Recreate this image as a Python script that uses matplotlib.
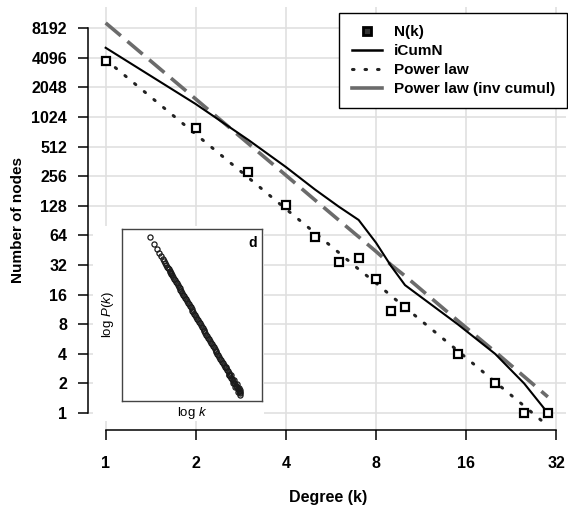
import matplotlib
matplotlib.use("Agg")
import matplotlib.pyplot as plt
from matplotlib.lines import Line2D
from matplotlib.patches import Rectangle

plt.rcParams['font.family'] = ['Liberation Sans', 'DejaVu Sans']
plt.rcParams['mathtext.fontset'] = 'custom'
plt.rcParams['mathtext.rm'] = 'Liberation Sans'
plt.rcParams['mathtext.it'] = 'Liberation Sans:italic'

# main chart data
degree = [1, 2, 3, 4, 5, 6, 7, 8, 9, 10, 15, 20, 25, 30]
n_k = [3800, 790, 280, 130, 62, 34, 38, 23, 11, 12, 4, 2, 1, 1]
icum_n = [5188, 1388, 598, 318, 188, 126, 92, 54, 31, 20, 8, 4, 2, 1]
power_law = [3930, 685, 247, 119, 68, 43, 29, 21, 15.5, 11.9, 4.3, 2.07, 1.18, 0.74]
power_inv = [9280, 1560, 549, 262, 147, 92, 62, 44, 32, 24.8, 8.7, 4.2, 2.35, 1.46]

x_ticks = [1, 2, 4, 8, 16, 32]
y_ticks = [1, 2, 4, 8, 16, 32, 64, 128, 256, 512, 1024, 2048, 4096, 8192]

# inset data: log k vs log P(k)
inset_logk = [0.30, 0.48, 0.60, 0.70, 0.78, 0.85, 0.90, 0.95, 1.00, 1.04, 1.08, 1.11,
              1.15, 1.18, 1.20, 1.23, 1.26, 1.30, 1.34, 1.38, 1.42, 1.46, 1.50, 1.54,
              1.58, 1.62, 1.66, 1.70, 1.74, 1.78, 1.82, 1.86, 1.90, 1.94, 1.98, 2.02,
              2.06, 2.10, 2.14, 2.18, 2.22, 2.26, 2.30, 2.34, 2.38, 2.42, 2.46, 2.50,
              2.54, 2.58, 2.62, 2.66, 2.70, 2.74, 2.78, 2.82, 2.86, 2.90, 2.94, 2.98,
              3.02, 3.06, 3.10, 3.14, 3.18, 3.22, 3.26, 3.30, 3.34, 3.38, 3.42, 3.46,
              3.50, 3.54, 3.58, 3.62, 3.66, 3.70, 3.74, 3.78, 3.82, 3.86, 3.90, 3.94,
              3.98, 4.02, 4.06, 4.10, 4.14, 4.18, 4.20,
              3.60, 3.70, 3.80, 3.90, 3.95, 4.00, 4.05, 4.10, 4.15, 4.20, 4.18]
inset_logp = [-0.63, -1.01, -1.26, -1.47, -1.64, -1.79, -1.89, -2.00, -2.10, -2.18, -2.27, -2.33,
              -2.42, -2.48, -2.52, -2.58, -2.65, -2.73, -2.81, -2.90, -2.98, -3.07, -3.15, -3.23,
              -3.32, -3.40, -3.49, -3.57, -3.65, -3.74, -3.82, -3.91, -3.99, -4.07, -4.16, -4.24,
              -4.33, -4.41, -4.49, -4.58, -4.66, -4.75, -4.83, -4.91, -5.00, -5.08, -5.17, -5.25,
              -5.33, -5.42, -5.50, -5.59, -5.67, -5.75, -5.84, -5.92, -6.01, -6.09, -6.17, -6.26,
              -6.34, -6.43, -6.51, -6.59, -6.68, -6.76, -6.85, -6.93, -7.01, -7.10, -7.18, -7.27,
              -7.35, -7.43, -7.52, -7.60, -7.69, -7.77, -7.85, -7.94, -8.02, -8.11, -8.19, -8.27,
              -8.36, -8.44, -8.53, -8.61, -8.69, -8.78, -8.82,
              -7.45, -7.90, -7.88, -8.30, -8.15, -8.50, -8.35, -8.75, -8.55, -8.95, -8.65]

W, H = 568, 511
fig = plt.figure(figsize=(W / 100, H / 100), dpi=100)
fig.patch.set_facecolor('white')

ax = fig.add_axes([88 / W, 1 - 430 / H, (566 - 88) / W, (430 - 7) / H])
ax.set_xscale('log', base=2)
ax.set_yscale('log', base=2)
ax.set_xlim(0.873, 34.5)
ax.set_ylim(0.672, 13480)

dotted = (0, (0.5, 3.6))
ax.plot(degree, power_inv, color='#6b6b6b', lw=2.6, dashes=[5.5, 2.4], zorder=3)
ax.plot(degree, icum_n, color='black', lw=1.5, zorder=3)
ax.plot(degree, power_law, color='#222222', lw=2.2, linestyle=dotted,
        dash_capstyle='round', zorder=3)
ax.plot(degree, n_k, linestyle='none', marker='s', markersize=5.8, markerfacecolor='white',
        markeredgecolor='black', markeredgewidth=1.6, zorder=4)

ax.set_xticks(x_ticks)
ax.set_xticklabels([str(v) for v in x_ticks])
ax.set_yticks(y_ticks)
ax.set_yticklabels([str(v) for v in y_ticks])
ax.minorticks_off()
ax.grid(True, color='#e0e0e0', lw=1.2)
ax.set_axisbelow(True)
for s in ['top', 'right']:
    ax.spines[s].set_visible(False)
ax.spines['left'].set_bounds(1, 8192)
ax.spines['bottom'].set_bounds(1, 32)
ax.spines['left'].set_linewidth(1.1)
ax.spines['bottom'].set_linewidth(1.1)
ax.tick_params(axis='y', length=7, width=1.1, pad=8, labelsize=11.5)
ax.tick_params(axis='x', length=7, width=1.1, pad=12, labelsize=11.5)
for lab in ax.get_xticklabels() + ax.get_yticklabels():
    lab.set_fontweight('bold')

fig.text(18 / W, 1 - 220 / H, 'Number of nodes', rotation=90, ha='center', va='center',
         fontsize=11, fontweight='bold')
fig.text(328 / W, 1 - 497 / H, 'Degree (k)', ha='center', va='center',
         fontsize=11.5, fontweight='bold')

handles = [
    Line2D([], [], linestyle='none', marker='s', markersize=5.5, markerfacecolor='#333333',
           markeredgecolor='black', markeredgewidth=2),
    Line2D([], [], color='black', lw=1.8),
    Line2D([], [], color='#222222', lw=2.2, linestyle=dotted, dash_capstyle='round'),
    Line2D([], [], color='#6b6b6b', lw=2.6),
]
labels = ['N(k)', 'iCumN', 'Power law', 'Power law (inv cumul)']
leg = ax.legend(handles, labels, loc='upper right', bbox_to_anchor=(567 / W, 1 - 13 / H),
                bbox_transform=fig.transFigure, borderaxespad=0, fancybox=False,
                edgecolor='black', framealpha=1, prop={'size': 11, 'weight': 'bold'},
                handlelength=2.0, handletextpad=0.75, labelspacing=0.32, borderpad=0.8)
leg.get_frame().set_linewidth(1.0)

# white area behind the inset
fig.patches.append(Rectangle((93 / W, 1 - 421 / H), 171 / W, 195 / H,
                             transform=fig.transFigure, facecolor='white',
                             edgecolor='none', zorder=1))

inset = fig.add_axes([122 / W, 1 - 401 / H, 140 / W, 172 / H], zorder=2)
inset.plot(inset_logk, inset_logp, linestyle='none', marker='o', markersize=3.7,
           markerfacecolor='none', markeredgecolor='#1a1a1a', markeredgewidth=0.9)
inset.set_xlim(-0.91, 5.15)
inset.set_ylim(-9.24, -0.21)
inset.set_xticks([])
inset.set_yticks([])
for s in inset.spines.values():
    s.set_color('#444444')
    s.set_linewidth(1.0)
inset.set_xlabel(r'log $k$', fontsize=9.5, labelpad=3)
inset.set_ylabel(r'log $P$($k$)', fontsize=9.5, labelpad=4)
inset.text(0.93, 0.96, 'd', transform=inset.transAxes, ha='center', va='top',
           fontsize=10, fontweight='bold')

fig.savefig('out.png', dpi=100)
